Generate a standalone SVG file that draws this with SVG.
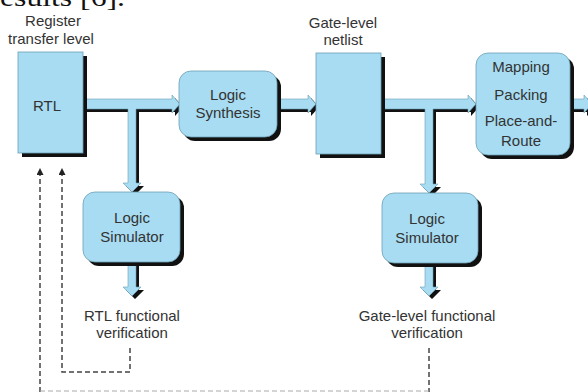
<svg xmlns="http://www.w3.org/2000/svg" width="588" height="392" viewBox="0 0 588 392">
<style>
.box{fill:#a7dcf2;stroke:#6d9fb5;stroke-width:0.8}
.sh{fill:#111}
.band{fill:#a7dcf2;stroke:#6d9fb5;stroke-width:0.6}
.t{font-family:"Liberation Sans",Arial,sans-serif;font-size:15px;fill:#333;text-anchor:middle}
.dash{fill:none;stroke:#444;stroke-width:1.5;stroke-dasharray:5,3}
</style>
<defs>
<marker id="ah" viewBox="0 0 10 10" refX="10" refY="5" markerWidth="7" markerHeight="7" markerUnits="userSpaceOnUse" orient="auto">
<path d="M0,0 L10,5 L0,10 Z" fill="#222"/>
</marker>
</defs>
<rect width="588" height="392" fill="#fff"/>
<text x="0" y="6" textLength="125" lengthAdjust="spacingAndGlyphs" style="font-family:'Liberation Serif','Times New Roman',serif;font-size:26px" fill="#111">esults [6].</text>

<g id="connectors">
<g transform="translate(3,3)" class="sh">
<polygon points="83,99 172,99 172,95 180,104 172,113 172,109 136,109 136,183 141,183 132,192 123,183 128,183 128,109 83,109"/>
<polygon points="277,99 308,99 308,95 316,104 308,113 308,109 277,109"/>
<polygon points="381,99 468,99 468,95 476,104 468,113 468,109 433,109 433,184 438,184 429,193 420,184 425,184 425,109 381,109"/>
<polygon points="570,99 584,99 584,95 592,104 584,113 584,109 570,109"/>
<polygon points="128,262 136,262 136,287 141,287 132,296 123,287 128,287"/>
<polygon points="425,263 433,263 433,287 438,287 429,296 420,287 425,287"/>
</g>
<polygon class="band" points="83,99 172,99 172,95 180,104 172,113 172,109 136,109 136,183 141,183 132,192 123,183 128,183 128,109 83,109"/>
<polygon class="band" points="277,99 308,99 308,95 316,104 308,113 308,109 277,109"/>
<polygon class="band" points="381,99 468,99 468,95 476,104 468,113 468,109 433,109 433,184 438,184 429,193 420,184 425,184 425,109 381,109"/>
<polygon class="band" points="570,99 584,99 584,95 592,104 584,113 584,109 570,109"/>
<polygon class="band" points="128,262 136,262 136,287 141,287 132,296 123,287 128,287"/>
<polygon class="band" points="425,263 433,263 433,287 438,287 429,296 420,287 425,287"/>
<path class="dash" d="M130,348 V372 H62 V168" marker-end="url(#ah)"/>
<path class="dash" d="M40,392 V168" marker-end="url(#ah)"/>
<path class="dash" d="M429,348 V392"/>
<path d="M40,391 H429" fill="none" stroke="#aaa" stroke-width="1.2" stroke-dasharray="5,3"/>
</g>

<g id="rtl">
<rect class="sh" x="22" y="56" width="65" height="101"/>
<rect class="box" x="18" y="52" width="65" height="101"/>
<text class="t" x="47" y="111">RTL</text>
<text class="t" x="53" y="26">Register</text>
<text class="t" x="51" y="44">transfer level</text>
</g>

<g id="logic-synthesis">
<rect class="sh" x="183" y="75" width="98" height="66" rx="12"/>
<rect class="box" x="179" y="71" width="98" height="66" rx="12"/>
<text class="t" x="228" y="100">Logic</text>
<text class="t" x="228" y="118">Synthesis</text>
</g>

<g id="gate-level-netlist">
<rect class="sh" x="320" y="57" width="65" height="101"/>
<rect class="box" x="316" y="53" width="65" height="101"/>
<text class="t" x="343" y="28">Gate-level</text>
<text class="t" x="343" y="45">netlist</text>
</g>

<g id="mapping">
<rect class="sh" x="480" y="57" width="94" height="102" rx="12"/>
<rect class="box" x="476" y="53" width="94" height="102" rx="12"/>
<text class="t" x="521" y="72">Mapping</text>
<text class="t" x="521" y="100">Packing</text>
<text class="t" x="521" y="126">Place-and-</text>
<text class="t" x="521" y="146">Route</text>
</g>

<g id="logic-simulator-1">
<rect class="sh" x="87" y="196" width="97" height="70" rx="12"/>
<rect class="box" x="83" y="192" width="97" height="70" rx="12"/>
<text class="t" x="132" y="223">Logic</text>
<text class="t" x="132" y="242">Simulator</text>
</g>

<g id="logic-simulator-2">
<rect class="sh" x="386" y="197" width="96" height="70" rx="12"/>
<rect class="box" x="382" y="193" width="96" height="70" rx="12"/>
<text class="t" x="427" y="224">Logic</text>
<text class="t" x="427" y="243">Simulator</text>
</g>

<g id="rtl-verification">
<text class="t" x="132" y="321">RTL functional</text>
<text class="t" x="132" y="338">verification</text>
</g>

<g id="gate-verification">
<text class="t" x="427" y="321">Gate-level functional</text>
<text class="t" x="427" y="338">verification</text>
</g>
</svg>
